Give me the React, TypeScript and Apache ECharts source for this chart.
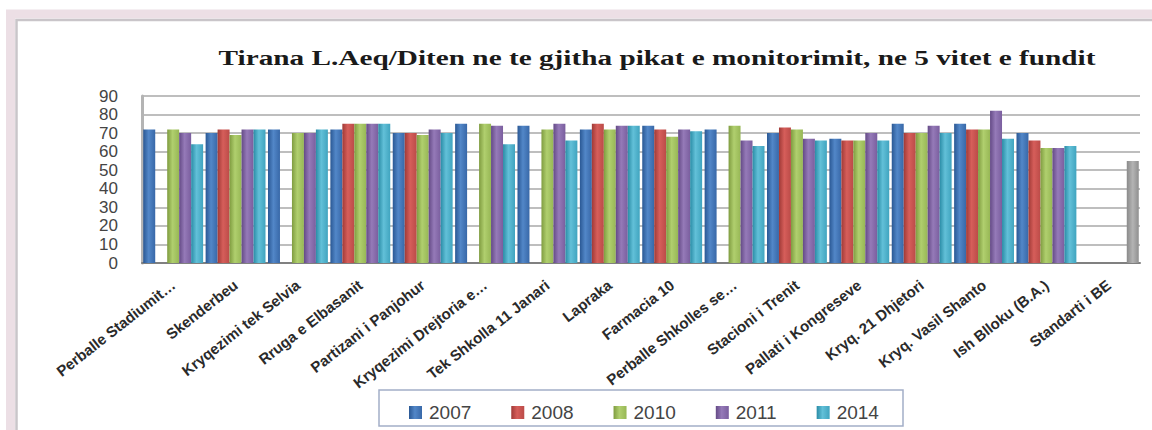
import React, { useEffect, useRef } from "react";
import * as echarts from "echarts";

const categories = [
  "Perballe Stadiumit…",
  "Skenderbeu",
  "Kryqezimi tek Selvia",
  "Rruga e Elbasanit",
  "Partizani i Panjohur",
  "Kryqezimi Drejtoria e…",
  "Tek Shkolla 11 Janari",
  "Lapraka",
  "Farmacia 10",
  "Perballe Shkolles se…",
  "Stacioni i Trenit",
  "Pallati i Kongreseve",
  "Kryq. 21 Dhjetori",
  "Kryq. Vasil Shanto",
  "Ish Blloku (B.A.)",
  "Standarti i BE",
];

const years = ["2007", "2008", "2010", "2011", "2014"];

const values2007 = [72, 70, 72, 72, 70, 75, 74, 72, 74, 72, 70, 67, 75, 75, 70, null];
const values2008 = [null, 72, null, 75, 70, null, null, 75, 72, null, 73, 66, 70, 72, 66, null];
const values2010 = [72, 69, 70, 75, 69, 75, 72, 72, 68, 74, 72, 66, 70, 72, 62, null];
const values2011 = [70, 72, 70, 75, 72, 74, 75, 74, 72, 66, 67, 70, 74, 82, 62, null];
const values2014 = [64, 72, 72, 75, 70, 64, 66, 74, 71, 63, 66, 66, 70, 67, 63, 55];

const yTicks = { min: 0, max: 90, interval: 10 };

const titleText = "Tirana L.Aeq/Diten ne te gjitha pikat e monitorimit, ne 5 vitet e fundit";

const baseColors = [
  ["#2a5894", "#5287c8", "#3868a8"],
  ["#a03a37", "#d65e5a", "#bb4b48"],
  ["#7f9c40", "#b0cf6e", "#97b755"],
  ["#644a86", "#957ab8", "#7a5e9e"],
  ["#2a8ca6", "#62c0d8", "#40a4bf"],
];

const grad = (c: string[]) =>
  new echarts.graphic.LinearGradient(0, 0, 1, 0, [
    { offset: 0, color: c[0] },
    { offset: 0.45, color: c[1] },
    { offset: 1, color: c[2] },
  ]);

export default function App() {
  const ref = useRef<HTMLDivElement>(null);

  useEffect(() => {
    document.body.style.margin = "0";
    const chart = echarts.init(ref.current!, null, { renderer: "svg" });
    const allValues = [values2007, values2008, values2010, values2011, values2014];

    const series = allValues.map((vals, i) => ({
      name: years[i],
      type: "bar",
      barGap: "0%",
      barCategoryGap: "4%",
      itemStyle: { color: grad(baseColors[i]) },
      data: vals.map((v, j) =>
        i === 4 && j === categories.length - 1
          ? {
              value: v,
              itemStyle: {
                color: new echarts.graphic.LinearGradient(0, 0, 1, 0, [
                  { offset: 0, color: "#8a8a8a" },
                  { offset: 0.5, color: "#b4b4b4" },
                  { offset: 1, color: "#8f8f8f" },
                ]),
              },
            }
          : v
      ),
    }));

    chart.setOption({
      animation: false,
      backgroundColor: "#ffffff",
      grid: { left: 142, right: 12, top: 96, bottom: 167 },
      xAxis: {
        type: "category",
        data: categories,
        axisLine: { lineStyle: { color: "#808080", width: 2 } },
        axisTick: { show: false },
        axisLabel: {
          interval: 0,
          rotate: 38,
          margin: 20,
          fontFamily: "Liberation Sans",
          fontWeight: "bold",
          fontSize: 15,
          color: "#2a2a2a",
        },
      },
      yAxis: {
        type: "value",
        min: yTicks.min,
        max: yTicks.max,
        interval: yTicks.interval,
        axisLine: { show: true, lineStyle: { color: "#b4b4b4", width: 3 } },
        axisTick: { show: false },
        axisLabel: {
          margin: 24,
          fontFamily: "Liberation Sans",
          fontSize: 17,
          color: "#444",
        },
        splitLine: { lineStyle: { color: "#a8a8a8", width: 1.5 } },
      },
      legend: {
        data: years,
        left: 404,
        top: 398,
        z: 110,
        itemWidth: 13,
        itemHeight: 13,
        itemGap: 40,
        icon: "rect",
        textStyle: {
          fontFamily: "Liberation Sans",
          fontSize: 19,
          color: "#444",
          padding: [0, 0, 0, 2],
        },
      },
      graphic: [
        {
          type: "rect",
          z: 1,
          silent: true,
          shape: { x: 10.5, y: 14, width: 1300, height: 600 },
          style: { fill: "none", stroke: "#ecdfe5", lineWidth: 9 },
        },
        {
          type: "rect",
          z: 1,
          silent: true,
          shape: { x: 16.5, y: 20, width: 1300, height: 600 },
          style: { fill: "none", stroke: "#c9c5c9", lineWidth: 2.5 },
        },
        {
          type: "text",
          z: 5,
          x: 657,
          y: 58,
          scaleX: 1.33,
          style: {
            text: titleText,
            textAlign: "center",
            textVerticalAlign: "middle",
            font: "bold 22px 'Liberation Serif'",
            fill: "#1a1a1a",
          },
        },
        {
          type: "rect",
          z: 100,
          silent: true,
          shape: { x: 379, y: 390, width: 524, height: 36 },
          style: { fill: "#ffffff", stroke: "#a3aec8", lineWidth: 1.5 },
        },
      ],
      series,
    });
    return () => chart.dispose();
  }, []);

  return <div ref={ref} style={{ width: 1152, height: 430 }} />;
}
